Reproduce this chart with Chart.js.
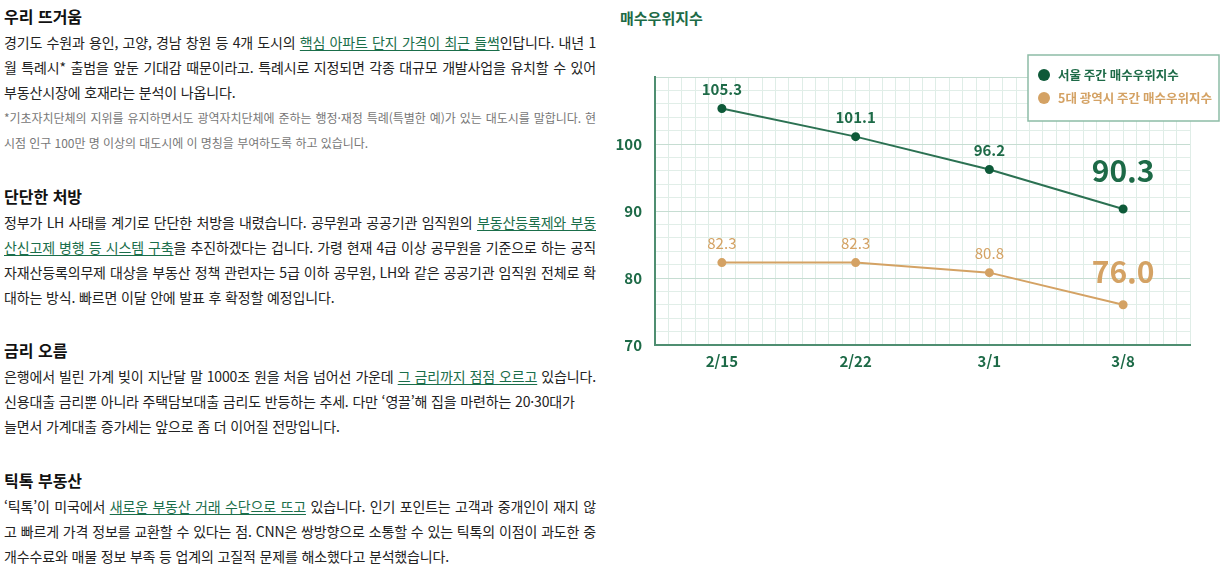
<!DOCTYPE html>
<html lang="ko">
<head>
<meta charset="utf-8">
<script src="https://cdn.jsdelivr.net/npm/chart.js@4.4.1/dist/chart.umd.min.js"></script>
<style>
  html, body { margin: 0; padding: 0; background: #fff; }
  body { width: 1227px; height: 576px; position: relative; overflow: hidden;
         font-family: "Noto Sans CJK KR", "Noto Sans", sans-serif; color: #222; }
  .sec { position: absolute; left: 4px; width: 592px; }
  .h { font-size: 16px; font-weight: 700; line-height: 25px; height: 25px; color: #111; }
  .body { margin-top: 1.5px; }
  .ln { font-size: 14px; line-height: 25px; height: 25px; white-space: nowrap; letter-spacing: -0.15px; }
  .full { text-align: justify; text-align-last: justify; }
  .fn { font-size: 12px; color: #777; letter-spacing: -0.05px; }
  a { color: #1a6e4a; text-decoration: underline; text-underline-offset: 2px; }
  #title { position: absolute; left: 620px; top: 7px; font-size: 15px; font-weight: 700; color: #1d6a46; }
  #wrap { position: absolute; left: 600px; top: 0; width: 627px; height: 576px; }
</style>
</head>
<body>
<div class="sec" style="top:3.5px">
  <div class="h">우리 뜨거움</div>
  <div class="body">
    <div class="ln full">경기도 수원과 용인, 고양, 경남 창원 등 4개 도시의 <a>핵심 아파트 단지 가격이 최근 들썩</a>인답니다. 내년 1</div>
    <div class="ln full">월 특례시* 출범을 앞둔 기대감 때문이라고. 특례시로 지정되면 각종 대규모 개발사업을 유치할 수 있어</div>
    <div class="ln">부동산시장에 호재라는 분석이 나옵니다.</div>
    <div class="ln fn full">*기초자치단체의 지위를 유지하면서도 광역자치단체에 준하는 행정·재정 특례(특별한 예)가 있는 대도시를 말합니다. 현</div>
    <div class="ln fn">시점 인구 100만 명 이상의 대도시에 이 명칭을 부여하도록 하고 있습니다.</div>
  </div>
</div>
<div class="sec" style="top:183.5px">
  <div class="h">단단한 처방</div>
  <div class="body">
    <div class="ln full">정부가 LH 사태를 계기로 단단한 처방을 내렸습니다. 공무원과 공공기관 임직원의 <a>부동산등록제와 부동</a></div>
    <div class="ln full"><a>산신고제 병행 등 시스템 구축</a>을 추진하겠다는 겁니다. 가령 현재 4급 이상 공무원을 기준으로 하는 공직</div>
    <div class="ln full">자재산등록의무제 대상을 부동산 정책 관련자는 5급 이하 공무원, LH와 같은 공공기관 임직원 전체로 확</div>
    <div class="ln">대하는 방식. 빠르면 이달 안에 발표 후 확정할 예정입니다.</div>
  </div>
</div>
<div class="sec" style="top:337.5px">
  <div class="h">금리 오름</div>
  <div class="body">
    <div class="ln full">은행에서 빌린 가계 빚이 지난달 말 1000조 원을 처음 넘어선 가운데 <a>그 금리까지 점점 오르고</a> 있습니다.</div>
    <div class="ln">신용대출 금리뿐 아니라 주택담보대출 금리도 반등하는 추세. 다만 ‘영끌’해 집을 마련하는 20·30대가</div>
    <div class="ln">늘면서 가계대출 증가세는 앞으로 좀 더 이어질 전망입니다.</div>
  </div>
</div>
<div class="sec" style="top:467.5px">
  <div class="h">틱톡 부동산</div>
  <div class="body">
    <div class="ln full">‘틱톡’이 미국에서 <a>새로운 부동산 거래 수단으로 뜨고</a> 있습니다. 인기 포인트는 고객과 중개인이 재지 않</div>
    <div class="ln full">고 빠르게 가격 정보를 교환할 수 있다는 점. CNN은 쌍방향으로 소통할 수 있는 틱톡의 이점이 과도한 중</div>
    <div class="ln">개수수료와 매물 정보 부족 등 업계의 고질적 문제를 해소했다고 분석했습니다.</div>
  </div>
</div>

<div id="title">매수우위지수</div>
<div id="wrap"><canvas id="c"></canvas></div>

<script>
const categories = ['2/15', '2/22', '3/1', '3/8'];
const seriesNames = ['서울 주간 매수우위지수', '5대 광역시 주간 매수우위지수'];
const seoulValues = [105.3, 101.1, 96.2, 90.3];
const metroValues = [82.3, 82.3, 80.8, 76.0];
const yTickLabels = [70, 80, 90, 100];

const GREEN = '#2b7152';
const GREEN_DARK = '#0e5a39';
const GREEN_TEXT = '#1d6a47';
const TAN = '#d4a264';
const AXIS = '#4f8e71';
const FONT = '"Noto Sans CJK KR", "Noto Sans", sans-serif';

const toPoints = vals => vals.map((v, i) => ({ x: i * 10, y: v }));

const labelPlugin = {
  id: 'valueLabels',
  afterDatasetsDraw(chart) {
    const ctx = chart.ctx;
    ctx.save();
    ctx.textAlign = 'center';
    ctx.textBaseline = 'middle';
    chart.data.datasets.forEach((ds, di) => {
      const meta = chart.getDatasetMeta(di);
      meta.data.forEach((pt, i) => {
        const last = i === ds.data.length - 1;
        const v = ds.data[i].y;
        if (di === 0) {
          ctx.fillStyle = GREEN_TEXT;
          ctx.font = last ? '700 30px ' + FONT : '700 15px ' + FONT;
          ctx.fillText(v.toFixed(1), pt.x, pt.y - (last ? 38 : 19));
        } else {
          ctx.fillStyle = TAN;
          ctx.font = last ? '700 30px ' + FONT : '400 15px ' + FONT;
          ctx.fillText(v.toFixed(1), pt.x, pt.y - (last ? 33 : 19));
        }
      });
    });
    ctx.restore();
  }
};

const legendPlugin = {
  id: 'boxLegend',
  afterDraw(chart) {
    const ctx = chart.ctx;
    const a = chart.chartArea;
    const x0 = a.right - 162, y0 = a.top - 22, w = 191, h = 66;
    ctx.save();
    ctx.fillStyle = '#ffffff';
    ctx.fillRect(x0, y0, w, h);
    ctx.strokeStyle = '#8dbca6';
    ctx.lineWidth = 1.5;
    ctx.strokeRect(x0, y0, w, h);
    const cols = [GREEN_DARK, TAN];
    const txt = [GREEN_TEXT, TAN];
    chart.data.datasets.forEach((ds, i) => {
      const cy = y0 + 20 + i * 23;
      ctx.fillStyle = cols[i];
      ctx.beginPath();
      ctx.arc(x0 + 16, cy, 6, 0, Math.PI * 2);
      ctx.fill();
      ctx.fillStyle = txt[i];
      ctx.font = '700 12.5px ' + FONT;
      ctx.textAlign = 'left';
      ctx.textBaseline = 'middle';
      ctx.fillText(ds.label, x0 + 30, cy);
    });
    ctx.restore();
  }
};

new Chart(document.getElementById('c'), {
  type: 'line',
  data: {
    datasets: [
      { label: seriesNames[0], data: toPoints(seoulValues), borderColor: GREEN, backgroundColor: GREEN_DARK,
        pointBackgroundColor: GREEN_DARK, pointBorderColor: GREEN_DARK, borderWidth: 2, pointRadius: 3.5, tension: 0 },
      { label: seriesNames[1], data: toPoints(metroValues), borderColor: TAN, backgroundColor: TAN,
        pointBackgroundColor: TAN, pointBorderColor: TAN, borderWidth: 2, pointRadius: 3.5, tension: 0 }
    ]
  },
  options: {
    responsive: true,
    maintainAspectRatio: false,
    animation: false,
    layout: { padding: { left: 0, top: 77, right: 37, bottom: 201 } },
    plugins: { legend: { display: false }, tooltip: { enabled: false }, title: { display: false } },
    scales: {
      x: {
        type: 'linear', min: -5, max: 35,
        afterFit: s => { s.height = 30; },
        ticks: {
          stepSize: 1, autoSkip: false, maxRotation: 0, padding: 7,
          color: GREEN_TEXT, font: { family: FONT, size: 15, weight: '700' },
          callback: v => (v % 10 === 0 && categories[v / 10] !== undefined) ? categories[v / 10] : ''
        },
        grid: { color: '#dfede7', lineWidth: 1, drawTicks: false },
        border: { display: true, color: AXIS, width: 2 }
      },
      y: {
        min: 70, max: 110,
        afterFit: s => { s.width = 55; },
        ticks: {
          stepSize: 2, autoSkip: false, padding: 13,
          color: GREEN_TEXT, font: { family: FONT, size: 15, weight: '700' },
          callback: v => yTickLabels.includes(v) ? String(v) : ''
        },
        grid: { color: c => (c.tick && c.tick.value % 10 === 0) ? '#c6ddd2' : '#e1eee8', lineWidth: 1, drawTicks: false },
        border: { display: true, color: AXIS, width: 2 }
      }
    }
  },
  plugins: [labelPlugin, legendPlugin]
});
</script>
</body>
</html>
